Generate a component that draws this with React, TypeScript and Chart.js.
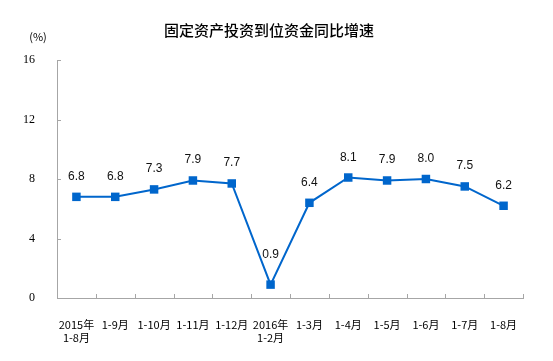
import React, { useEffect, useRef } from "react";
import { Chart, registerables } from "chart.js";
Chart.register(...registerables);

const categories: (string | string[])[] = [
  ["2015年", "1-8月"], "1-9月", "1-10月", "1-11月", "1-12月",
  ["2016年", "1-2月"], "1-3月", "1-4月", "1-5月", "1-6月", "1-7月", "1-8月",
];
const growth = [6.8, 6.8, 7.3, 7.9, 7.7, 0.9, 6.4, 8.1, 7.9, 8.0, 7.5, 6.2];
const yTicks = [0, 4, 8, 12, 16];
const titleText = "固定资产投资到位资金同比增速";
const unitText = "(%)";

const decoPlugin = {
  id: "deco",
  afterDatasetsDraw(chart: any) {
    const { ctx, scales } = chart;
    const x = scales.x, y = scales.y;
    ctx.save();
    // inward tick marks
    ctx.strokeStyle = "#A6A6A6";
    ctx.lineWidth = 1;
    ctx.beginPath();
    for (const t of y.ticks) {
      const py = Math.round(y.getPixelForValue(t.value)) + 0.5;
      ctx.moveTo(x.left, py);
      ctx.lineTo(x.left + 4, py);
    }
    for (let i = 1; i <= categories.length; i++) {
      const px = Math.round(x.getPixelForValue(i - 0.5)) + 0.5;
      ctx.moveTo(px, y.bottom);
      ctx.lineTo(px, y.bottom - 4);
    }
    ctx.stroke();
    // data labels
    const meta = chart.getDatasetMeta(0);
    ctx.fillStyle = "#111";
    ctx.font = "12px 'Liberation Sans', Arial, sans-serif";
    ctx.textAlign = "center";
    ctx.textBaseline = "alphabetic";
    meta.data.forEach((pt: any, i: number) => {
      const lift = i === 5 ? 27 : 17;
      ctx.fillText(growth[i].toFixed(1), pt.x, pt.y - lift);
    });
    // title & unit
    ctx.fillStyle = "#000";
    ctx.font = "500 15px 'Noto Sans CJK SC', sans-serif";
    ctx.textBaseline = "middle";
    ctx.fillText(titleText, 269, 30);
    ctx.font = "11px 'Noto Sans CJK SC', sans-serif";
    ctx.fillText(unitText, 38, 37);
    ctx.restore();
  },
};

export default function App() {
  const ref = useRef<HTMLCanvasElement>(null);
  useEffect(() => {
    if (!ref.current) return;
    const chart = new Chart(ref.current, {
      type: "line",
      data: {
        labels: categories as any,
        datasets: [
          {
            data: growth,
            borderColor: "#0066CC",
            backgroundColor: "#0066CC",
            borderWidth: 2,
            pointStyle: "rect",
            pointRadius: 6,
            pointBorderWidth: 0,
            pointBackgroundColor: "#0066CC",
            tension: 0,
          },
        ],
      },
      options: {
        animation: false,
        responsive: false,
        maintainAspectRatio: false,
        layout: { padding: { top: 60, right: 30, left: 0, bottom: 0 } },
        plugins: { legend: { display: false }, tooltip: { enabled: false }, title: { display: false } },
        scales: {
          x: {
            offset: true,
            grid: { display: false },
            border: { display: true, color: "#A6A6A6", width: 1 },
            ticks: {
              padding: 12,
              maxRotation: 0,
              autoSkip: false,
              color: "#000",
              font: { family: "'Noto Sans CJK SC', sans-serif", size: 11, lineHeight: 1.2 },
            },
            afterFit: (s: any) => { s.height = 63; },
          },
          y: {
            min: 0,
            max: 16,
            afterBuildTicks: (s: any) => { s.ticks = yTicks.map((v) => ({ value: v })); },
            grid: { display: false },
            border: { display: true, color: "#A6A6A6", width: 1 },
            ticks: {
              padding: 14,
              color: "#000",
              font: { family: "'Liberation Serif', 'Times New Roman', serif", size: 12 },
            },
            afterFit: (s: any) => { s.width = 57; },
          },
        },
      },
      plugins: [decoPlugin],
    });
    return () => chart.destroy();
  }, []);
  return (
    <div style={{ position: "fixed", left: 0, top: 0, width: 553, height: 361, background: "#fff" }}>
      <canvas ref={ref} width={553} height={361} style={{ width: 553, height: 361 }} />
    </div>
  );
}
